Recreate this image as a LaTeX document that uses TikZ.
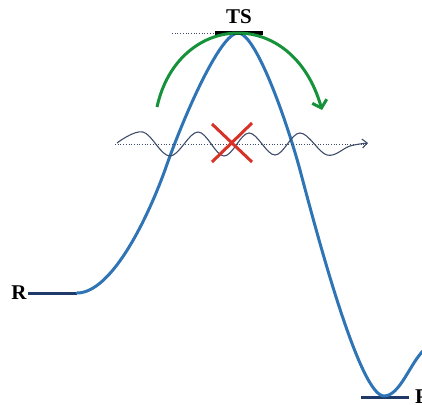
\documentclass[tikz,border=0pt]{standalone}
\usepackage{fontspec}
\setmainfont{Liberation Serif}
\usetikzlibrary{arrows.meta}
\definecolor{curveblue}{HTML}{2F74B5}
\definecolor{barnavy}{HTML}{1F3A68}
\definecolor{wavegrey}{HTML}{3E4C6A}
\definecolor{arrowgreen}{HTML}{16923A}
\definecolor{crossred}{HTML}{D63228}
\tikzset{
  lbl/.style={font=\bfseries\fontsize{21}{21}\selectfont, inner sep=0pt},
  pes/.style={curveblue, line width=3pt, line cap=round},
  levelbar/.style={barnavy, line width=3pt},
  tsbar/.style={black, line width=3.5pt},
  refline/.style={wavegrey, line width=0.7pt, dotted},
  wave/.style={wavegrey, line width=1.1pt},
  turn/.style={arrowgreen, line width=3pt},
  cross/.style={crossred, line width=3pt}
}
\begin{document}
\begin{tikzpicture}[x=1pt,y=-1pt]
\useasboundingbox (0,0) rectangle (422,404);
% labels
\node[lbl] (R) at (19,293) {R};
\node[lbl] (TS) at (239,17) {TS};
\node[lbl, anchor=west] (P) at (415,397) {P};
% level bars
\coordinate (rA) at (28,293);
\coordinate (rB) at (77,293);
\draw[levelbar] (rA) -- (rB);
\coordinate (pA) at (361,397);
\coordinate (pB) at (409,397);
\draw[levelbar] (pA) -- (pB);
% dotted reference line at TS
\coordinate (tsL) at (172,33);
\coordinate (tsA) at (215,33);
\coordinate (tsB) at (263,33);
\draw[refline] (tsL) -- (tsA);
% energy curve
\coordinate (c1) at (165,170);
\coordinate (top) at (238,33);
\coordinate (c3) at (300,170);
\coordinate (bot) at (384,396);
\coordinate (cend) at (424,350);
\draw[pes] (rB) .. controls (110,293) and (145,225) .. (c1)
  .. controls (183,118) and (220,33) .. (top)
  .. controls (256,33) and (287,122) .. (c3)
  .. controls (318,238) and (360,396) .. (bot)
  .. controls (400,396) and (410,363) .. (cend);
\draw[tsbar] (tsA) -- (tsB);
% green arrow
\coordinate (gS) at (157,107);
\coordinate (gE) at (322,110);
\draw[turn, -{Straight Barb[length=7pt,width=15pt,line width=3pt]}]
  (gS) .. controls (178,12) and (292,5) .. (gE);
% wave and its axis
\coordinate (wS) at (115,144);
\coordinate (wE) at (368,144);
\draw[refline] (wS) -- (wE);
\draw[wave, -{Straight Barb[length=5pt,width=9pt]}] plot[smooth, tension=0.6] coordinates {
 (117,143) (143,132) (170,156) (198,132) (224,156) (249,133) (275,155)
 (300,133) (327,155) (350,146) (368,143)};
% red cross
\coordinate (xA) at (212,124);
\coordinate (xB) at (252,162);
\coordinate (xC) at (252,123);
\coordinate (xD) at (212,162);
\draw[cross] (xA) -- (xB);
\draw[cross] (xC) -- (xD);
\end{tikzpicture}
\end{document}
